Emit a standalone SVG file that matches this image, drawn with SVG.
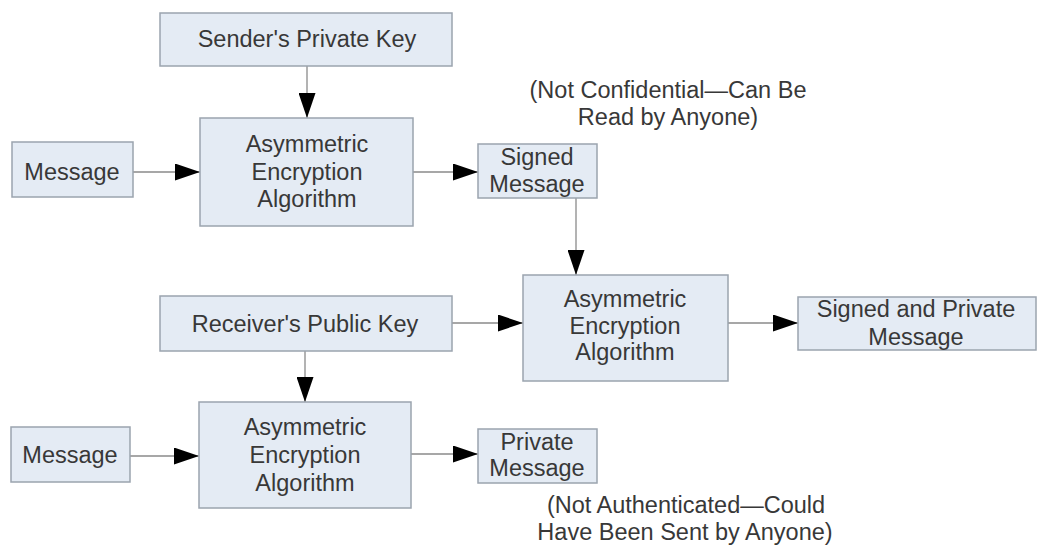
<svg xmlns="http://www.w3.org/2000/svg" width="1040" height="546" viewBox="0 0 1040 546">
<style>
.box{fill:#e4ebf4;stroke:#9ba4ae;stroke-width:1.5}
text{font-family:"Liberation Sans",Arial,sans-serif;font-size:23.5px;fill:#383838;text-anchor:middle}
.c{stroke:#8a8a8a;stroke-width:1.3;fill:none;marker-end:url(#ah)}
</style>
<defs>
<marker id="ah" markerUnits="userSpaceOnUse" markerWidth="25" markerHeight="17" refX="25" refY="8.5" orient="auto">
<path d="M0,0 L25,8.5 L0,17 z" fill="#000"/>
</marker>
</defs>
<rect width="1040" height="546" fill="#fff"/>
<g id="connectors">
<line class="c" x1="307" y1="66" x2="307" y2="118"/>
<line class="c" x1="133" y1="172" x2="200" y2="172"/>
<line class="c" x1="413" y1="172" x2="478" y2="172"/>
<line class="c" x1="576" y1="198" x2="576" y2="275"/>
<line class="c" x1="452" y1="323" x2="523" y2="323"/>
<line class="c" x1="728" y1="323" x2="798" y2="323"/>
<line class="c" x1="305" y1="351" x2="305" y2="402"/>
<line class="c" x1="130" y1="456" x2="199" y2="456"/>
<line class="c" x1="411" y1="454" x2="478" y2="454"/>
</g>
<g id="sender-key"><rect class="box" x="160" y="13" width="292" height="53"/><text x="307" y="47">Sender's Private Key</text></g>
<g id="message1"><rect class="box" x="12" y="142" width="121" height="55"/><text x="72" y="180">Message</text></g>
<g id="algo1"><rect class="box" x="200" y="118" width="213" height="108"/><text x="307" y="152">Asymmetric</text><text x="307" y="180">Encryption</text><text x="307" y="207">Algorithm</text></g>
<g id="signed"><rect class="box" x="478" y="144" width="119" height="54"/><text x="537" y="165">Signed</text><text x="537" y="192">Message</text></g>
<g id="note1"><text x="668" y="98">(Not Confidential—Can Be</text><text x="668" y="125">Read by Anyone)</text></g>
<g id="algo2"><rect class="box" x="523" y="275" width="205" height="106"/><text x="625" y="307">Asymmetric</text><text x="625" y="334">Encryption</text><text x="625" y="360">Algorithm</text></g>
<g id="signed-private"><rect class="box" x="798" y="297" width="238" height="53"/><text x="916" y="317">Signed and Private</text><text x="916" y="345">Message</text></g>
<g id="receiver-key"><rect class="box" x="160" y="296" width="292" height="55"/><text x="305" y="332">Receiver's Public Key</text></g>
<g id="message2"><rect class="box" x="11" y="427" width="119" height="55"/><text x="70" y="463">Message</text></g>
<g id="algo3"><rect class="box" x="199" y="402" width="212" height="106"/><text x="305" y="435">Asymmetric</text><text x="305" y="463">Encryption</text><text x="305" y="491">Algorithm</text></g>
<g id="private"><rect class="box" x="478" y="429" width="119" height="54"/><text x="537" y="450">Private</text><text x="537" y="476">Message</text></g>
<g id="note2"><text x="686" y="513">(Not Authenticated—Could</text><text x="685" y="540">Have Been Sent by Anyone)</text></g>
</svg>
